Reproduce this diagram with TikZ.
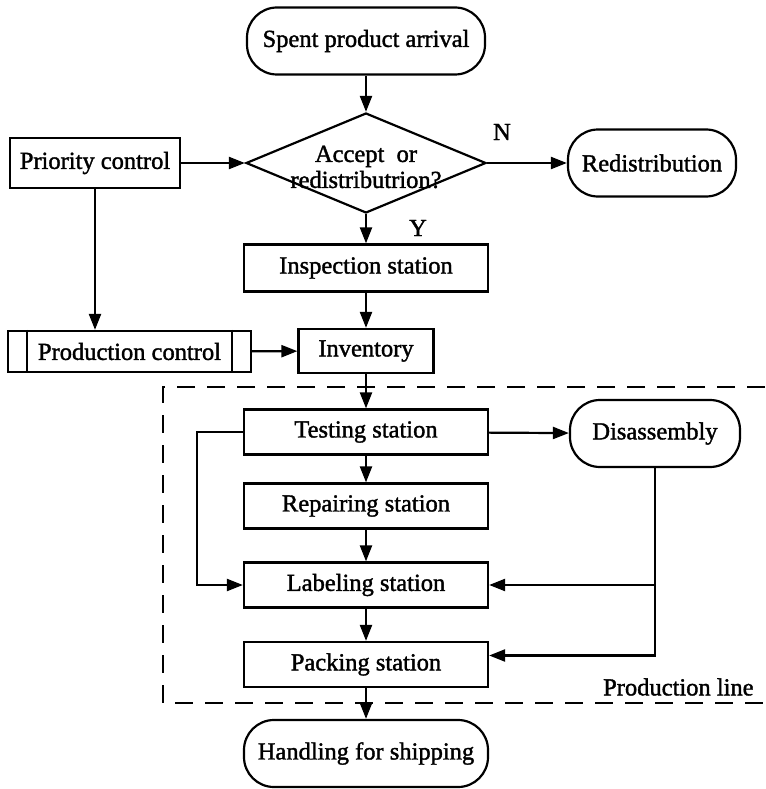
\documentclass[tikz,border=0pt]{standalone}
\usepackage{fontspec}
\setmainfont{Liberation Serif}[UprightFeatures={FakeBold=1.5}]
\usetikzlibrary{shapes.geometric,arrows.meta}
\begin{document}
\begin{tikzpicture}[x=1pt,y=-1pt,
  font=\fontsize{24.5}{28}\selectfont, line width=2.2pt,
  box/.style={draw, rectangle, minimum width=244pt, minimum height=45pt, inner sep=0pt},
  term/.style={draw, rectangle, rounded corners=30pt, minimum height=67pt, inner sep=0pt},
  decision/.style={draw, diamond, minimum width=240pt, minimum height=100pt, inner sep=0pt},
  arr/.style={-{Triangle[length=16pt,width=12pt]}},
  region/.style={dash pattern=on 18pt off 12pt}]
\useasboundingbox (0,0) rectangle (765,789);

% nodes
\node[term, minimum width=238pt] (spa) at (366,41) {Spent product arrival};
\node[decision] (dec) at (366,163) {};
\node[align=center, inner sep=0pt, font=\fontsize{24.5}{26}\selectfont] (dectext) at (366,167) {Accept\ \ or\\redistributrion?};
\node[box, minimum width=170pt, minimum height=50pt] (prio) at (95,163) {Priority control};
\node[term, minimum width=168pt] (redis) at (652,163) {Redistribution};
\node[box, minimum height=47pt] (insp) at (366,268) {Inspection station};
\node[box, minimum width=243pt, minimum height=41pt] (prod) at (129.5,351.5) {Production control};
\node[box, minimum width=135pt, minimum height=44pt] (inv) at (366,351) {Inventory};
\node[box] (test) at (366,432) {Testing station};
\node[term, minimum width=170pt] (dis) at (655,433.5) {Disassembly};
\node[box] (rep) at (366,506) {Repairing station};
\node[box] (lab) at (366,585) {Labeling station};
\node[box] (pack) at (366,664.5) {Packing station};
\node[term, minimum width=244pt] (hand) at (366,753.5) {Handling for shipping};

% predefined-process side bars
\draw ([xshift=20pt]prod.north west) -- ([xshift=20pt]prod.south west);
\draw ([xshift=-20pt]prod.north east) -- ([xshift=-20pt]prod.south east);

% branch labels
\node (nlab) at (502,132) {N};
\node (ylab) at (418,228) {Y};

% production line region
\draw[region] (765,387) -- (163,387) -- (163,703) -- (765,703);
\node[anchor=east] (pl) at (758,687) {Production line};

% connectors
\draw[arr] (spa) -- (dec);
\draw[arr] (prio) -- (dec.west);
\draw[arr] (dec.east) -- (redis);
\draw[arr] (dec.south) -- (insp);
\draw[arr] (insp) -- (inv);
\draw[arr] (prio.south) -- (prio.south |- prod.north);
\draw[arr] (prod) -- (inv);
\draw[arr] (inv) -- (test);
\draw[arr] (test) -- (dis);
\draw[arr] (test) -- (rep);
\draw[arr] (rep) -- (lab);
\draw[arr] (lab) -- (pack);
\draw[arr] (pack) -- (hand);
\draw[arr] (test.west) -- ++(-46,0) |- (lab.west);
\draw[arr] (dis.south) |- ([yshift=9pt]pack.east);
\draw[arr] (dis.south |- lab.east) -- (lab.east);
\end{tikzpicture}
\end{document}
